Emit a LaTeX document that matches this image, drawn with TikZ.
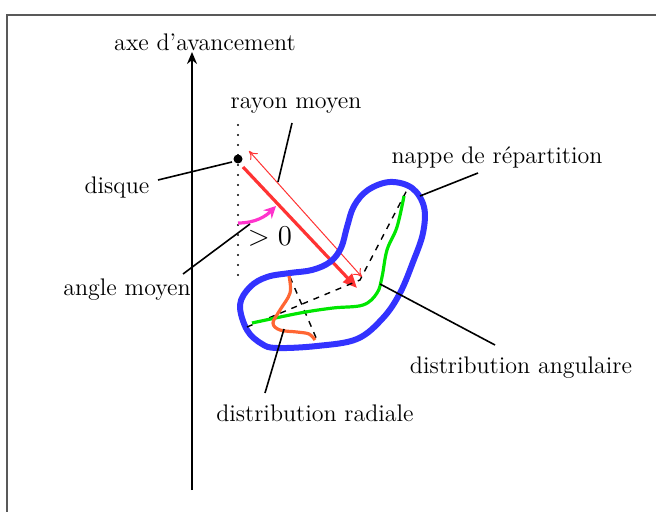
\documentclass[tikz,border=0pt]{standalone}
\usetikzlibrary{arrows.meta,positioning}
\definecolor{nappeblue}{RGB}{51,51,255}
\definecolor{rayonred}{RGB}{255,51,51}
\definecolor{distgreen}{RGB}{0,230,0}
\definecolor{distorange}{RGB}{255,102,51}
\definecolor{anglemag}{RGB}{255,51,204}
\tikzset{
    lbl/.style={font=\large, inner sep=1pt},
    leader/.style={line width=0.8pt, black},
    % axe d'avancement
    axisarrow/.style={
        line width=1pt,
        black,
        -{Stealth[length=6pt, width=5pt]}
    },
    rayonarrow/.style={
        line width=1.6pt,
        rayonred,
        -{Triangle[length=7pt, width=6pt]}
    },
    rayonthin/.style={
        line width=0.5pt,
        rayonred,
        {To[length=4pt, width=5pt]}-{To[length=4pt, width=5pt]}
    },
    anglearrow/.style={
        line width=1.6pt,
        anglemag,
        -{Stealth[length=6pt, width=6pt]}
    }
}
\begin{document}
\begin{tikzpicture}[x=0.5pt,y=-0.5pt]
    \useasboundingbox (0,0) rectangle (656,512);
    \draw[gray!70!black, line width=0.6pt] (7,512) -- (7,15) -- (656,15);

    % axe
    \coordinate (axbas) at (192,490);
    \coordinate (axhaut) at (192,52);
    \draw[axisarrow] (axbas) -- (axhaut);
    \node[lbl] (axe) at (205,42) {axe d'avancement};

    % disque et rayon
    \coordinate (disque) at (238,159);
    \draw[line width=1.2pt, line cap=round, dash pattern=on 0pt off 5pt] (238,125) -- (238,282);
    \fill[black] (disque) circle (4.5);
    \coordinate (r0) at (243,167);
    \coordinate (r1) at (357,288);
    \coordinate (t0) at (249,151);
    \coordinate (t1) at (362,277);
    \draw[rayonarrow] (r0) -- (r1);
    \draw[rayonthin] (t0) -- (t1);

    % angle
    \coordinate (a0) at (238,223);
    \coordinate (a1) at (276,206);
    \draw[anglearrow] (a0) .. controls (256,223) and (266,216) .. (a1);
    \node[font=\Large, inner sep=0pt] (sup) at (270,237) {$>0$};

    % nappe
    \draw[nappeblue, line width=3pt] plot[smooth cycle, tension=0.6] coordinates {
        (240,305) (250,287) (267,277) (290,273) (312,270) (330,262)
        (341,248) (347,227) (354,206) (368,190) (390,182) (412,188)
        (424,207) (423,233) (413,262) (400,293) (383,318) (357,339)
        (317,346) (277,348) (262,344) (247,330)};

    % lignes moyennes
    \coordinate (d0) at (247,327);
    \coordinate (dm) at (360,280);
    \coordinate (d1) at (407,190);
    \draw[dashed, line width=0.7pt] (d0) -- (dm) -- (d1);
    \coordinate (e0) at (290,277);
    \coordinate (e1) at (317,340);
    \draw[dashed, line width=0.7pt] (e0) -- (e1);

    % distributions
    \draw[distgreen, line width=1.6pt] plot[smooth, tension=0.6] coordinates {
        (252,323) (300,313) (333,308) (363,305) (377,293) (382,277)
        (387,250) (397,227) (404,196)};
    \draw[distorange, line width=1.6pt] plot[smooth, tension=0.6] coordinates {
        (289,276) (290,293) (280,310) (273,323) (280,330) (297,332)
        (309,334) (315,340)};

    % etiquettes
    \node[lbl] (ldisque) at (117,188) {disque};
    \coordinate (pdisque) at (232,162);
    \draw[leader] (158,180) -- (pdisque);

    \node[lbl] (lrayon) at (296,106) {rayon moyen};
    \coordinate (prayon) at (278,182);
    \draw[leader] (292,123) -- (prayon);

    \node[lbl] (langle) at (127,290) {angle moyen};
    \coordinate (pangle) at (250,224);
    \draw[leader] (183,274) -- (pangle);

    \node[lbl] (lnappe) at (497,157) {nappe de r\'epartition};
    \coordinate (pnappe) at (420,196);
    \draw[leader] (478,173) -- (pnappe);

    \node[lbl] (lang) at (521,368) {distribution angulaire};
    \coordinate (pang) at (380,284);
    \draw[leader] (495,345) -- (pang);

    \node[lbl] (lrad) at (315,413) {distribution radiale};
    \coordinate (prad) at (284,329);
    \draw[leader] (265,393) -- (prad);
\end{tikzpicture}
\end{document}
